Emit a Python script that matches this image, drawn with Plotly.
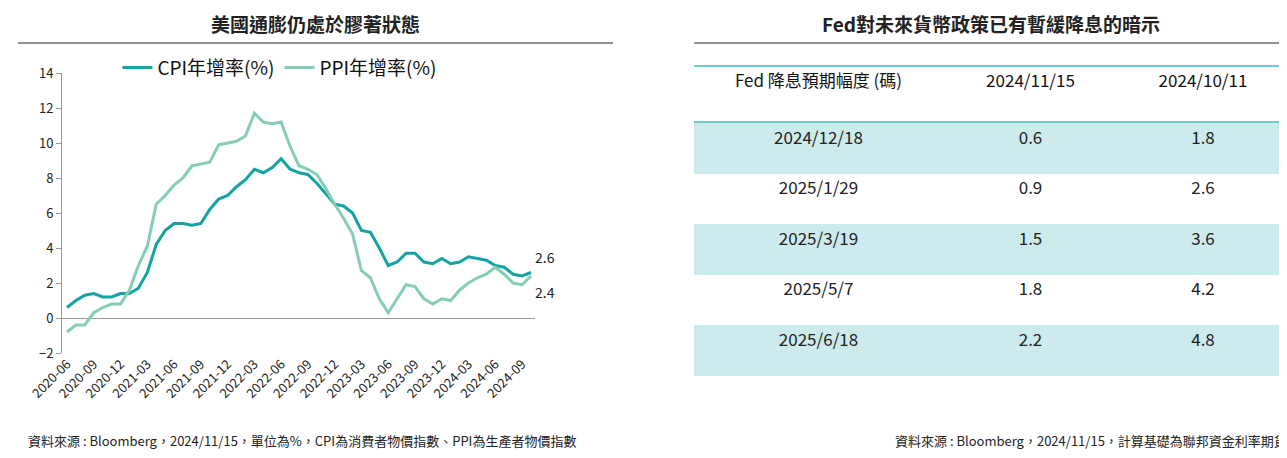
import plotly.graph_objects as go
import pandas as pd

months = pd.date_range("2020-06-01", "2024-10-01", freq="MS").strftime("%Y-%m").tolist()
cpi = [0.6,1.0,1.3,1.4,1.2,1.2,1.4,1.4,1.7,2.6,4.2,5.0,5.4,5.4,5.3,5.4,6.2,6.8,7.0,7.5,7.9,8.5,8.3,8.6,9.1,8.5,8.3,8.2,7.7,7.1,6.5,6.4,6.0,5.0,4.9,4.0,3.0,3.2,3.7,3.7,3.2,3.1,3.4,3.1,3.2,3.5,3.4,3.3,3.0,2.9,2.5,2.4,2.6]
ppi = [-0.8,-0.4,-0.4,0.3,0.6,0.8,0.8,1.6,3.0,4.1,6.5,7.0,7.6,8.0,8.7,8.8,8.9,9.9,10.0,10.1,10.4,11.7,11.2,11.1,11.2,9.8,8.7,8.5,8.2,7.4,6.5,5.7,4.8,2.7,2.3,1.1,0.3,1.1,1.9,1.8,1.1,0.8,1.1,1.0,1.6,2.0,2.3,2.5,2.9,2.5,2.0,1.9,2.4]
tick_labels = months[::3]

tbl_header = ["Fed 降息預期幅度 (碼)", "2024/11/15", "2024/10/11"]
tbl_dates = ["2024/12/18", "2025/1/29", "2025/3/19", "2025/5/7", "2025/6/18"]
tbl_nov = ["0.6", "0.9", "1.5", "1.8", "2.2"]
tbl_oct = ["1.8", "2.6", "3.6", "4.2", "4.8"]

FONT = "Noto Sans CJK TC"
TEAL = "#13a3a0"
LIGHT = "#86cdb5"
fig = go.Figure()
fig.add_trace(go.Scatter(x=months, y=cpi, name="CPI年增率(%)", mode="lines", line=dict(color=TEAL, width=3)))
fig.add_trace(go.Scatter(x=months, y=ppi, name="PPI年增率(%)", mode="lines", line=dict(color=LIGHT, width=3)))

fills = ["#cdebed" if i % 2 == 0 else "white" for i in range(len(tbl_dates))]
fig.add_trace(go.Table(
    domain=dict(x=[686/1287, 1280/1287], y=[1-368/458, 1-58/458]),
    columnwidth=[249, 175, 170],
    header=dict(values=tbl_header, height=57, fill_color="white", line=dict(width=0),
                font=dict(family=FONT, size=17, color="#111"), align="center"),
    cells=dict(values=[tbl_dates, tbl_nov, tbl_oct], height=50.5, fill_color=[fills]*3,
               line=dict(width=0), font=dict(family=FONT, size=17, color="#222"), align="center"),
))

fig.add_annotation(x=months[-1], y=cpi[-1], text="2.6", xanchor="left", yanchor="bottom", showarrow=False,
                   xshift=2, yshift=4, font=dict(family=FONT, size=14, color="#222"))
fig.add_annotation(x=months[-1], y=ppi[-1], text="2.4", xanchor="left", yanchor="top", showarrow=False,
                   xshift=2, yshift=-4, font=dict(family=FONT, size=14, color="#222"))

ann = [
    dict(text="<b>美國通膨仍處於膠著狀態</b>", x=307/1287, y=1-15/458),
    dict(text="<b>Fed對未來貨幣政策已有暫緩降息的暗示</b>", x=983/1287, y=1-15/458),
]
for a in ann:
    fig.add_annotation(xref="paper", yref="paper", x=a["x"], y=a["y"], text=a["text"], showarrow=False,
                       xanchor="center", font=dict(family=FONT, size=19, color="#222"), yanchor="middle")
fig.add_annotation(xref="paper", yref="paper", x=18/1287, y=1-444/458, text="資料來源 : Bloomberg，2024/11/15，單位為%，CPI為消費者物價指數、PPI為生產者物價指數",
                   showarrow=False, xanchor="left", font=dict(family=FONT, size=13, color="#222"))
fig.add_annotation(xref="paper", yref="paper", x=1281/1287, y=1-444/458, text="資料來源 : Bloomberg，2024/11/15，計算基礎為聯邦資金利率期貨",
                   showarrow=False, xanchor="right", font=dict(family=FONT, size=13, color="#222"))

shapes = [
    dict(type="line", xref="paper", yref="paper", x0=10/1287, x1=605/1287, y0=1-35/458, y1=1-35/458, line=dict(color="#222", width=1)),
    dict(type="line", xref="paper", yref="paper", x0=686/1287, x1=1280/1287, y0=1-35/458, y1=1-35/458, line=dict(color="#222", width=1)),
    dict(type="line", xref="paper", yref="paper", x0=686/1287, x1=1280/1287, y0=1-58/458, y1=1-58/458, line=dict(color="#3fb8bb", width=1.5)),
    dict(type="line", xref="paper", yref="paper", x0=686/1287, x1=1280/1287, y0=1-114/458, y1=1-114/458, line=dict(color="#3fb8bb", width=1.5)),
]
fig.update_layout(
    width=1287, height=458, margin=dict(l=0, r=0, t=0, b=0, autoexpand=False), paper_bgcolor="white", plot_bgcolor="white",
    shapes=shapes, font=dict(family=FONT, color="#222"),
    legend=dict(orientation="h", x=0.085, y=0.87, xanchor="left", yanchor="middle", font=dict(size=19, family=FONT, color="#111"),
                bgcolor="rgba(0,0,0,0)", tracegroupgap=0),
    xaxis=dict(domain=[54/1287, 527/1287], type="category", range=[-0.56, 52.45], tickvals=tick_labels,
               ticktext=tick_labels, tickangle=-45, showgrid=False, showline=False, ticks="", automargin=False,
               tickfont=dict(size=13, family=FONT), zeroline=False),
    yaxis=dict(domain=[1-345/458, 1-65/458], range=[-2, 14], dtick=2, showgrid=False, zeroline=True, automargin=False,
               zerolinecolor="#999", zerolinewidth=1, showline=True, linecolor="#999", ticks="outside",
               ticklen=5, tickcolor="#999", tickfont=dict(size=13, family=FONT)),
)
fig.write_html("out.html")
